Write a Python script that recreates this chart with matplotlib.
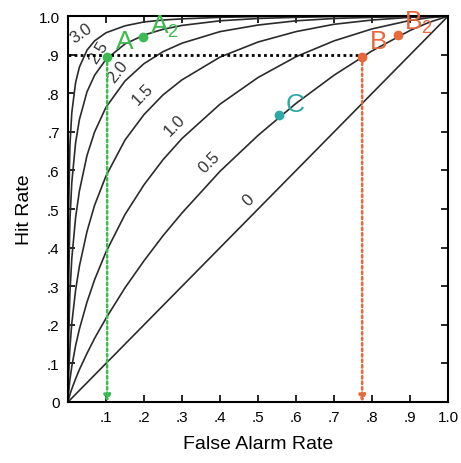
import matplotlib
matplotlib.use("Agg")
import matplotlib.pyplot as plt

plt.rcParams['font.family'] = ['Liberation Sans', 'DejaVu Sans']
plt.rcParams['mathtext.default'] = 'regular'

# false alarm rates shared by all curves
far = [0, 0.001, 0.005, 0.01, 0.02, 0.03, 0.05, 0.07, 0.1, 0.15, 0.2, 0.25,
       0.3, 0.4, 0.5, 0.6, 0.7, 0.8, 0.9, 0.95, 1.0]

# hit rates for each d' curve
hits = {
    '0':   [0, 0.001, 0.005, 0.01, 0.02, 0.03, 0.05, 0.07, 0.1, 0.15, 0.2, 0.25,
            0.3, 0.4, 0.5, 0.6, 0.7, 0.8, 0.9, 0.95, 1.0],
    '0.5': [0, 0.005, 0.019, 0.034, 0.060, 0.084, 0.126, 0.165, 0.217, 0.296, 0.366, 0.431,
            0.490, 0.598, 0.691, 0.774, 0.847, 0.910, 0.963, 0.984, 1.0],
    '1.0': [0, 0.018, 0.058, 0.092, 0.146, 0.189, 0.259, 0.317, 0.389, 0.486, 0.563, 0.628,
            0.683, 0.772, 0.841, 0.895, 0.936, 0.967, 0.989, 0.996, 1.0],
    '1.5': [0, 0.056, 0.141, 0.204, 0.290, 0.352, 0.442, 0.510, 0.586, 0.679, 0.745, 0.796,
            0.835, 0.894, 0.933, 0.960, 0.979, 0.990, 0.997, 0.999, 1.0],
    '2.0': [0, 0.138, 0.282, 0.372, 0.478, 0.547, 0.639, 0.700, 0.764, 0.832, 0.877, 0.908,
            0.930, 0.960, 0.977, 0.988, 0.994, 0.997, 0.999, 1.0, 1.0],
    '2.5': [0, 0.278, 0.470, 0.569, 0.672, 0.732, 0.804, 0.847, 0.888, 0.928, 0.951, 0.966,
            0.976, 0.988, 0.994, 0.997, 0.999, 1.0, 1.0, 1.0, 1.0],
    '3.0': [0, 0.464, 0.664, 0.750, 0.828, 0.868, 0.912, 0.936, 0.957, 0.975, 0.985, 0.990,
            0.993, 0.997, 0.999, 1.0, 1.0, 1.0, 1.0, 1.0, 1.0],
}

# curve label positions and angles
label_x = {'0': 0.474, '0.5': 0.372, '1.0': 0.282, '1.5': 0.197, '2.0': 0.131, '2.5': 0.079, '3.0': 0.034}
label_y = {'0': 0.524, '0.5': 0.622, '1.0': 0.718, '1.5': 0.800, '2.0': 0.858, '2.5': 0.908, '3.0': 0.958}
label_rot = {'0': 45, '0.5': 45, '1.0': 45, '1.5': 45, '2.0': 52, '2.5': 58, '3.0': 35}

# marked points
pt_names = ['A', 'A$_2$', 'B', 'B$_2$', 'C']
pt_x = [0.103, 0.197, 0.774, 0.868, 0.555]
pt_y = [0.894, 0.946, 0.894, 0.951, 0.744]
pt_colors = ['#3dba52', '#3dba52', '#e8683a', '#e8683a', '#2aa9a6']
pt_text_x = [0.125, 0.215, 0.795, 0.885, 0.572]
pt_text_y = [0.935, 0.975, 0.935, 0.985, 0.772]

ticks = [0, .1, .2, .3, .4, .5, .6, .7, .8, .9, 1.0]
xtick_labels = ['', '.1', '.2', '.3', '.4', '.5', '.6', '.7', '.8', '.9', '1.0']
ytick_labels = ['0', '.1', '.2', '.3', '.4', '.5', '.6', '.7', '.8', '.9', '1.0']

fig = plt.figure(figsize=(4.61, 4.64), dpi=100)
ax = fig.add_axes([0.1475, 0.1315, 0.8245, 0.8315])

for k in hits:
    ax.plot(far, hits[k], color='#2b2b2b', lw=1.2, zorder=2)
    ax.text(label_x[k], label_y[k], k, rotation=label_rot[k], ha='center', va='center',
            fontsize=12, color='#333333', zorder=3)

# dotted guide lines
ax.plot([0, pt_x[2]], [0.9, 0.9], color='black', lw=2, ls=(0, (1, 1.2)), zorder=3)
ax.annotate('', xy=(pt_x[0], 0.0), xytext=(pt_x[0], pt_y[0]),
            arrowprops=dict(arrowstyle='-|>', color=pt_colors[0], lw=1.8, ls=(0, (1, 1.2)),
                            mutation_scale=10, shrinkA=0, shrinkB=0), zorder=3)
ax.annotate('', xy=(pt_x[2], 0.0), xytext=(pt_x[2], pt_y[2]),
            arrowprops=dict(arrowstyle='-|>', color=pt_colors[2], lw=1.8, ls=(0, (1, 1.2)),
                            mutation_scale=10, shrinkA=0, shrinkB=0), zorder=3)

for name, x, y, c, tx, ty in zip(pt_names, pt_x, pt_y, pt_colors, pt_text_x, pt_text_y):
    ax.plot(x, y, 'o', color=c, ms=6, zorder=4)
    ax.text(tx, ty, name, color=c, fontsize=19, ha='left', va='center', zorder=4)

ax.set_xlim(0, 1)
ax.set_ylim(0, 1)
ax.set_xticks(ticks)
ax.set_xticklabels(xtick_labels)
ax.set_yticks(ticks)
ax.set_yticklabels(ytick_labels)
ax.tick_params(direction='in', length=5, width=1.2, top=True, right=True, labelsize=11, pad=6)
for s in ax.spines.values():
    s.set_linewidth(1.5)

ax.set_xlabel('False Alarm Rate', fontsize=14, labelpad=8)
ax.set_ylabel('Hit Rate', fontsize=14, labelpad=4)

fig.savefig('out.png', dpi=100)
